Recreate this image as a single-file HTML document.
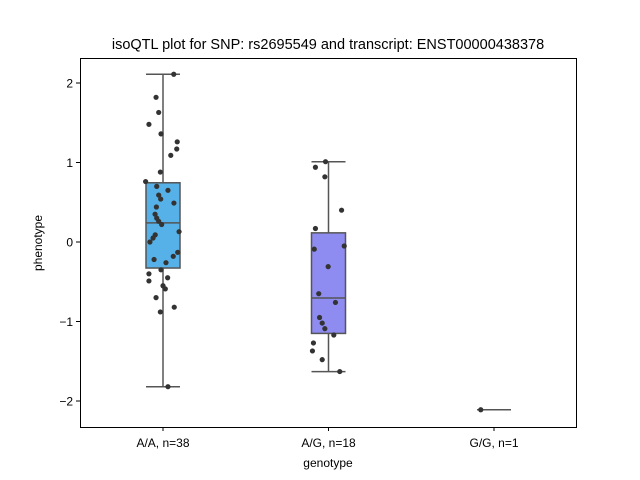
<!DOCTYPE html>
<html><head><meta charset="utf-8"><style>
body{margin:0;background:#fff;}
svg{display:block;font-family:"Liberation Sans",sans-serif;}
</style></head><body>
<svg id="chart" width="640" height="480" xmlns="http://www.w3.org/2000/svg">
<rect width="640" height="480" fill="#fff"/>
<text x="328" y="49" text-anchor="middle" font-size="14.5">isoQTL plot for SNP: rs2695549 and transcript: ENST00000438378</text>
<g id="plot"></g>
<rect x="80.5" y="58.5" width="496" height="369" fill="none" stroke="#000" stroke-width="1"/>
<text x="328" y="467" text-anchor="middle" font-size="12">genotype</text>
<text transform="translate(42,243) rotate(-90)" text-anchor="middle" font-size="12">phenotype</text>
</svg>
<script>
const categories = ["A/A, n=38", "A/G, n=18", "G/G, n=1"];
const groupAA = [2.11,1.82,1.63,1.48,1.36,1.26,1.17,1.09,0.88,0.76,0.70,0.65,0.59,0.54,0.49,0.44,0.35,0.30,0.26,0.22,0.13,0.09,0.05,0.00,-0.13,-0.18,-0.22,-0.26,-0.35,-0.40,-0.45,-0.49,-0.55,-0.59,-0.70,-0.82,-0.88,-1.82];
const jitterAA = [0.065,-0.042,-0.026,-0.085,-0.012,0.086,0.083,0.047,-0.016,-0.105,-0.038,0.03,-0.026,-0.014,0.066,-0.04,-0.048,-0.038,-0.026,-0.008,0.097,-0.047,-0.06,-0.079,0.089,0.062,-0.054,0.018,-0.012,-0.085,0.028,-0.085,0,0.014,-0.042,0.068,-0.016,0.03];
const groupAG = [1.01,0.94,0.82,0.40,0.17,-0.09,-0.05,-0.31,-0.65,-0.76,-0.95,-1.02,-1.09,-1.17,-1.27,-1.37,-1.48,-1.63];
const jitterAG = [-0.018,-0.079,-0.022,0.079,-0.079,-0.086,0.095,-0.002,-0.059,0.042,-0.054,-0.038,-0.022,0.032,-0.091,-0.097,-0.038,0.068];
const groupGG = [-2.11];
const jitterGG = [-0.08];
const yTicks = [-2,-1,0,1,2];
const tickLabels = ["\u22122","\u22121","0","1","2"];
const boxColors = ["#56b1e8","#8e8cf1","#b87df0"];

const groups=[groupAA,groupAG,groupGG], jit=[jitterAA,jitterAG,jitterGG];
const NS="http://www.w3.org/2000/svg";
const g=document.getElementById('plot');
const x=i=>163+i*165.5;
const y=v=>242-v*79.5;
const bw=34;
function el(t,a){const e=document.createElementNS(NS,t);for(const k in a)e.setAttribute(k,a[k]);g.appendChild(e);return e;}
function pct(s,p){const i=p*(s.length-1),lo=Math.floor(i),hi=Math.ceil(i);return s[lo]+(s[hi]-s[lo])*(i-lo);}
yTicks.forEach((t,i)=>{
  const l=el('line',{x1:76,x2:80,y1:y(t),y2:y(t),stroke:'#000'});
  
  
  const tx=el('text',{x:73,y:y(t)+4.5,'text-anchor':'end','font-size':12});
  tx.textContent=tickLabels[i];
  
  
});
categories.forEach((c,i)=>{
  const l=el('line',{x1:x(i),x2:x(i),y1:427,y2:431,stroke:'#000'});
  
  
  const tx=el('text',{x:x(i),y:447,'text-anchor':'middle','font-size':12});
  tx.textContent=c;
  
  
});
groups.forEach((d,i)=>{
  const s=[...d].sort((a,b)=>a-b);
  const q1=pct(s,0.25),q3=pct(s,0.75),med=pct(s,0.5),iqr=q3-q1;
  const lo=s.find(v=>v>=q1-1.5*iqr),hi=[...s].reverse().find(v=>v<=q3+1.5*iqr);
  const cx=x(i),st={stroke:'#555','stroke-width':1.5};
  const w1=el('line',Object.assign({x1:cx,x2:cx,y1:y(hi),y2:y(q3)},st));
  
  
  const w2=el('line',Object.assign({x1:cx,x2:cx,y1:y(q1),y2:y(lo)},st));
  
  
  const c1=el('line',Object.assign({x1:cx-bw/2,x2:cx+bw/2,y1:y(hi),y2:y(hi)},st));
  
  
  const c2=el('line',Object.assign({x1:cx-bw/2,x2:cx+bw/2,y1:y(lo),y2:y(lo)},st));
  
  
  const b=el('rect',Object.assign({x:cx-bw/2,y:y(q3),width:bw,height:Math.max(0,y(q1)-y(q3)),fill:boxColors[i]},st));
  
  
  const m=el('line',Object.assign({x1:cx-bw/2,x2:cx+bw/2,y1:y(med),y2:y(med)},st));
  
  
  d.forEach((v,j)=>{
    const p=el('circle',{cx:cx+jit[i][j]*165.5,cy:y(v),r:2.6,fill:'#333'});
    
    
  });
});
</script>
</body></html>
